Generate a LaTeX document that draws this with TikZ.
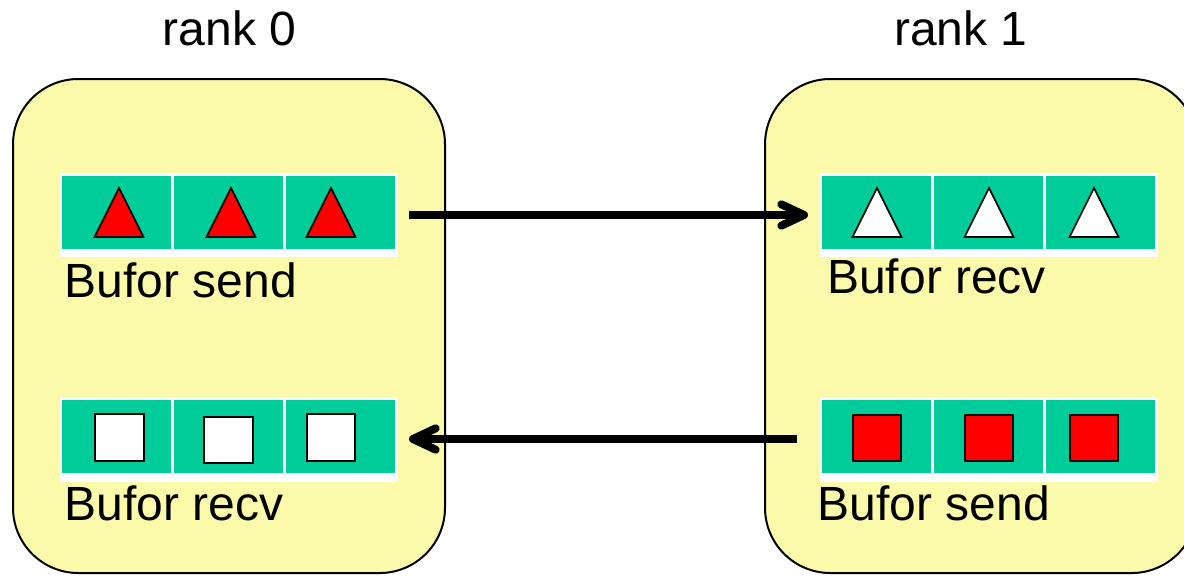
\documentclass[tikz,border=0pt]{standalone}
\usepackage{fontspec}
\setmainfont{Liberation Sans}
\usetikzlibrary{arrows.meta}
\definecolor{boxyellow}{RGB}{250,250,170}
\definecolor{cellgreen}{RGB}{0,204,153}
\begin{document}
\begin{tikzpicture}[x=0.75pt,y=-0.75pt,
  rankbox/.style={draw=black, line width=1.5pt, fill=boxyellow, rounded corners=49pt},
  strip/.style={fill=white, draw=none, inner sep=0pt, outer sep=0pt, anchor=north west,
    minimum width=253.5pt, minimum height=63pt},
  cell/.style={fill=cellgreen, draw=none, inner sep=0pt, outer sep=0pt, anchor=north west,
    minimum width=81.75pt, minimum height=54.75pt},
  glyph/.style={draw=black, line width=1.2pt},
  lbl/.style={inner sep=0pt, anchor=base west, font=\fontsize{36}{40}\selectfont},
  ranklbl/.style={inner sep=0pt, anchor=base, font=\fontsize{36}{40}\selectfont},
  arrowline/.style={line width=6pt, -{Straight Barb[length=17pt,width=16pt,round]}}
]
\clip (0,0) rectangle (1184,576);
\fill[white] (0,0) rectangle (1184,576);

% rank boxes
\draw[rankbox] (13,79) rectangle (445,573);
\draw[rankbox] (765,79) rectangle (1197,573);

\node[ranklbl] (r0) at (229.5,45) {rank 0};
\node[ranklbl] (r1) at (961,45) {rank 1};

% buffers
\node[strip] (bufL1) at (60,173) {};
\node[strip] (bufL2) at (60,398) {};
\node[strip] (bufR1) at (820,173) {};
\node[strip] (bufR2) at (820,398) {};

\foreach \x in {62,174,286} {
  \node[cell] at (\x,176) {};
  \node[cell] at (\x,400) {};
}
\foreach \x in {822,934,1046} {
  \node[cell] at (\x,176) {};
  \node[cell] at (\x,400) {};
}

% triangles
\foreach \c in {119,231,331} {
  \draw[glyph, fill=red] (\c,188) -- (\c+24.5,237) -- (\c-24.5,237) -- cycle;
}
\foreach \c in {877,989,1094} {
  \draw[glyph, fill=white] (\c,188) -- (\c+24.5,237) -- (\c-24.5,237) -- cycle;
}
% squares
\draw[glyph, fill=white] (95,414) rectangle (144,461);
\draw[glyph, fill=white] (204,417) rectangle (253,463);
\draw[glyph, fill=white] (307,414) rectangle (355,461);
\draw[glyph, fill=red] (853,415) rectangle (901,461);
\draw[glyph, fill=red] (965,415) rectangle (1013,461);
\draw[glyph, fill=red] (1070,415) rectangle (1118,461);

% labels
\node[lbl] (l1) at (64.5,297) {Bufor send};
\node[lbl] (l2) at (64.5,520) {Bufor recv};
\node[lbl] (l3) at (827,293) {Bufor recv};
\node[lbl] (l4) at (817.5,520) {Bufor send};

% arrows
\draw[arrowline] ([xshift=8.25pt]bufL1.east) -- ([xshift=-9pt]bufR1.west);
\draw[arrowline] ([xshift=-17.25pt,yshift=0.75pt]bufR2.west) -- ([xshift=8.25pt,yshift=0.75pt]bufL2.east);
\end{tikzpicture}
\end{document}
